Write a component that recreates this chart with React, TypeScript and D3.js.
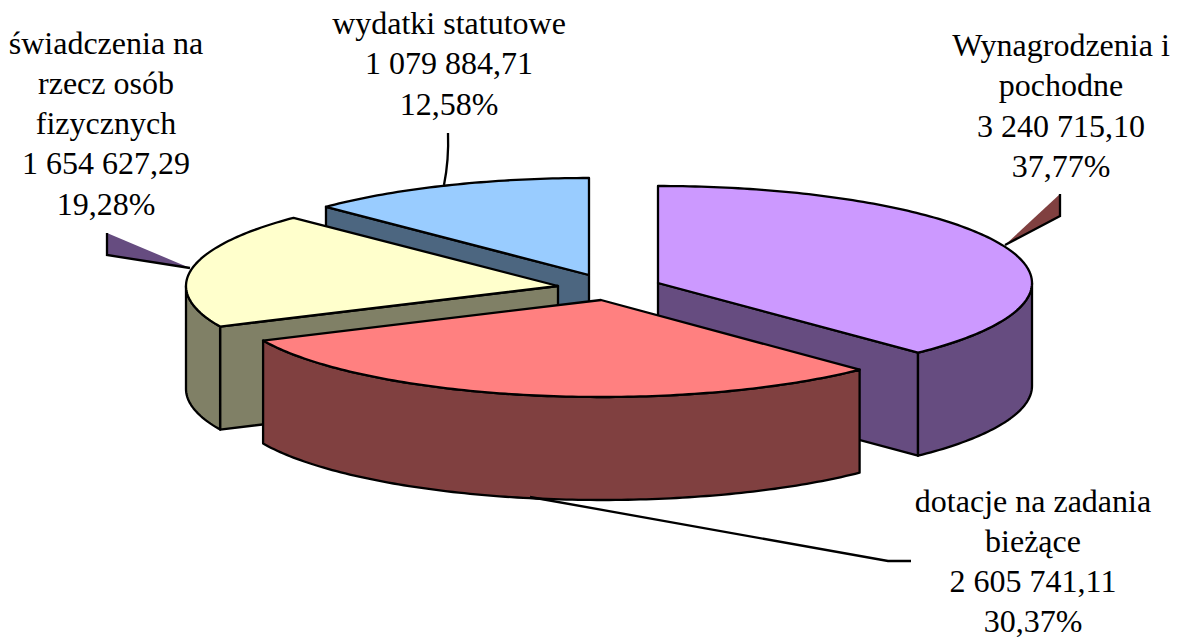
import React from "react";
import * as d3 from "d3";

const categories = ["Wynagrodzenia i pochodne", "dotacje na zadania bieżące", "świadczenia na rzecz osób fizycznych", "wydatki statutowe"];
const values = [3240715.10, 2605741.11, 1654627.29, 1079884.71];
const topColors = ["#CC99FF", "#FF8080", "#FFFFCC", "#99CCFF"];
const wallColors = ["#664C80", "#804040", "#808066", "#4C6680"];
const centersX = [658, 601, 558, 589];
const centersY = [283, 300, 286, 275];
const radiiX = [374, 372, 372, 370];
const drawOrder = [3, 2, 0, 1];
const labelLines = [
  ["Wynagrodzenia i", "pochodne", "3 240 715,10", "37,77%"],
  ["dotacje na zadania", "bieżące", "2 605 741,11", "30,37%"],
  ["świadczenia na", "rzecz osób", "fizycznych", "1 654 627,29", "19,28%"],
  ["wydatki statutowe", "1 079 884,71", "12,58%"],
];
const labelX = [1061, 1033, 106, 449];
const labelTop = [56, 511.5, 53.5, 34];
const LH = 40.3;
const RY = 97, DEPTH = 103;
const SW = 2.3;

const pie = d3.pie<number>().sort(null).value((d) => d);
const arcs = pie(values);

function pt(i: number, a: number, dz = 0): [number, number] {
  const sx = d3.scaleLinear().domain([-1, 1]).range([-radiiX[i], radiiX[i]]);
  const sy = d3.scaleLinear().domain([-1, 1]).range([-RY, RY]);
  return [centersX[i] + sx(Math.sin(a)), centersY[i] - sy(Math.cos(a)) + dz];
}
function arcPts(i: number, a0: number, a1: number, dz = 0) {
  const n = Math.max(2, Math.ceil((a1 - a0) * 60));
  return d3.range(n + 1).map((k) => pt(i, a0 + ((a1 - a0) * k) / n, dz));
}
const line = d3.line();

function Slice({ i }: { i: number }) {
  const { startAngle: a0, endAngle: a1 } = arcs[i];
  const c: [number, number] = [centersX[i], centersY[i]];
  const c2: [number, number] = [c[0], c[1] + DEPTH];
  const top = line([c, ...arcPts(i, a0, a1)])! + "Z";
  // cut faces: only those turned towards the viewer are drawn
  const wallEnd = Math.sin(a1) > 1e-6 ? line([c, pt(i, a1), pt(i, a1, DEPTH), c2])! + "Z" : null;
  const wallStart = Math.sin(a0) < -1e-6 ? line([c, pt(i, a0), pt(i, a0, DEPTH), c2])! + "Z" : null;
  // outer wall: the part of the rim facing the viewer
  const o0 = Math.max(a0, Math.PI / 2), o1 = Math.min(a1, (3 * Math.PI) / 2);
  const rim = o1 > o0 ? arcPts(i, o0, o1) : [];
  const rimB = o1 > o0 ? arcPts(i, o0, o1, DEPTH).reverse() : [];
  const outer = rim.length ? line([...rim, ...rimB])! + "Z" : null;
  const common = { stroke: "#000", strokeWidth: SW, strokeLinejoin: "round" as const };
  return (
    <g>
      {wallStart && <path d={wallStart} fill={wallColors[i]} {...common} />}
      {wallEnd && <path d={wallEnd} fill={wallColors[i]} {...common} />}
      {outer && <path d={outer} fill={wallColors[i]} {...common} />}
      <path d={top} fill={topColors[i]} {...common} />
    </g>
  );
}

export default function App() {
  return (
    <svg width={1177} height={637} style={{ position: "absolute", left: 0, top: 0, background: "#fff" }}
      fontFamily="'Liberation Serif', serif" fontSize={32} fill="#000">
      <path d="M1005,245 L1060,216 L1060,194Z" fill="#804040" />
      <path d="M1060,194 L1060,216 L1005,245" fill="none" stroke="#000" strokeWidth={SW} />
      <path d="M190,268 L107,255 L107,233Z" fill="#664C80" />
      <path d="M107,233 L107,255 L190,268" fill="none" stroke="#000" strokeWidth={SW} />
      {drawOrder.map((i) => <Slice key={categories[i]} i={i} />)}
      <path d="M444,185 Q449,160 448,133" fill="none" stroke="#000" strokeWidth={SW} />
      <path d="M530,497 L888,561 L911,561" fill="none" stroke="#000" strokeWidth={SW} />
      {labelLines.map((ls, i) => ls.map((t, j) => (
        <text key={t} x={labelX[i]} y={labelTop[i] + j * LH} textAnchor="middle">{t}</text>
      )))}
    </svg>
  );
}
